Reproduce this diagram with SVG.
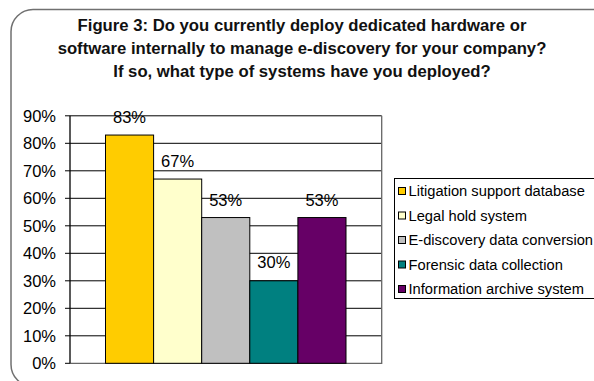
<svg xmlns="http://www.w3.org/2000/svg" width="594" height="381" viewBox="0 0 594 381">
<style>
.t{font-family:"Liberation Sans",Arial,sans-serif;fill:#000}
.title{font-size:16.7px;font-weight:bold;text-anchor:middle;fill:#111}
.ax{font-size:16.5px;text-anchor:end}
.val{font-size:16.5px;text-anchor:middle}
.leg{font-size:14.7px}
.grid{stroke:#000;stroke-width:1}
.bar{stroke:#000;stroke-width:1}
.sw{stroke:#000;stroke-width:1}
</style>
<rect x="0" y="0" width="594" height="381" fill="#fff"/>
<rect id="frame" x="11" y="9.5" width="610" height="377" rx="22" ry="22" fill="#fff" stroke="#707070" stroke-width="1.5"/>
<g id="title" class="t title">
<text x="302" y="30.5">Figure 3: Do you currently deploy dedicated hardware or</text>
<text x="302" y="53.5">software internally to manage e-discovery for your company?</text>
<text x="302" y="76.5">If so, what type of systems have you deployed?</text>
</g>
<g id="plot">
<rect x="70" y="115.8" width="311.7" height="247.5" fill="#fff"/>
<g class="grid">
<line x1="70" y1="115.8" x2="381.7" y2="115.8"/>
<line x1="70" y1="143.3" x2="381.7" y2="143.3"/>
<line x1="70" y1="170.8" x2="381.7" y2="170.8"/>
<line x1="70" y1="198.3" x2="381.7" y2="198.3"/>
<line x1="70" y1="225.8" x2="381.7" y2="225.8"/>
<line x1="70" y1="253.3" x2="381.7" y2="253.3"/>
<line x1="70" y1="280.8" x2="381.7" y2="280.8"/>
<line x1="70" y1="308.3" x2="381.7" y2="308.3"/>
<line x1="70" y1="335.8" x2="381.7" y2="335.8"/>
</g>
<polyline points="381.7,115.8 381.7,363.3 70,363.3" fill="none" stroke="#666" stroke-width="1.3"/>
</g>
<g id="bars">
<g id="bar-litigation"><rect class="bar" x="105.5" y="135.05" width="48.1" height="228.25" fill="#FFCC00"/><text class="t val" x="129.5" y="122.5">83%</text></g>
<g id="bar-legalhold"><rect class="bar" x="153.6" y="179.05" width="48.1" height="184.25" fill="#FFFFCC"/><text class="t val" x="177.6" y="166.5">67%</text></g>
<g id="bar-ediscovery"><rect class="bar" x="201.7" y="217.55" width="48.1" height="145.75" fill="#C0C0C0"/><text class="t val" x="225.7" y="205.5">53%</text></g>
<g id="bar-forensic"><rect class="bar" x="249.8" y="280.8" width="48.1" height="82.5" fill="#008080"/><text class="t val" x="273.8" y="267.8">30%</text></g>
<g id="bar-archive"><rect class="bar" x="297.9" y="217.55" width="48.1" height="145.75" fill="#660066"/><text class="t val" x="321.9" y="205.5">53%</text></g>
</g>
<g id="yaxis">
<line x1="70" y1="115.8" x2="70" y2="363.3" stroke="#000" stroke-width="1.3"/>
<g class="grid">
<line x1="65" y1="115.8" x2="70" y2="115.8"/>
<line x1="65" y1="143.3" x2="70" y2="143.3"/>
<line x1="65" y1="170.8" x2="70" y2="170.8"/>
<line x1="65" y1="198.3" x2="70" y2="198.3"/>
<line x1="65" y1="225.8" x2="70" y2="225.8"/>
<line x1="65" y1="253.3" x2="70" y2="253.3"/>
<line x1="65" y1="280.8" x2="70" y2="280.8"/>
<line x1="65" y1="308.3" x2="70" y2="308.3"/>
<line x1="65" y1="335.8" x2="70" y2="335.8"/>
<line x1="65" y1="363.3" x2="70" y2="363.3"/>
</g>
<g class="t ax">
<text x="56" y="121.8">90%</text>
<text x="56" y="149.3">80%</text>
<text x="56" y="176.8">70%</text>
<text x="56" y="204.3">60%</text>
<text x="56" y="231.8">50%</text>
<text x="56" y="259.3">40%</text>
<text x="56" y="286.8">30%</text>
<text x="56" y="314.3">20%</text>
<text x="56" y="341.8">10%</text>
<text x="56" y="369.3">0%</text>
</g>
</g>
<g id="legend">
<rect x="394.5" y="178.5" width="210" height="120" fill="#fff" stroke="#000" stroke-width="1"/>
<rect class="sw" x="398.5" y="187.5" width="7" height="7" fill="#FFCC00"/>
<rect class="sw" x="398.5" y="212" width="7" height="7" fill="#FFFFCC"/>
<rect class="sw" x="398.5" y="236.5" width="7" height="7" fill="#C0C0C0"/>
<rect class="sw" x="398.5" y="261" width="7" height="7" fill="#008080"/>
<rect class="sw" x="398.5" y="285.5" width="7" height="7" fill="#660066"/>
<g class="t leg">
<text x="408.5" y="196">Litigation support database</text>
<text x="408.5" y="220.5">Legal hold system</text>
<text x="408.5" y="245">E-discovery data conversion</text>
<text x="408.5" y="269.5">Forensic data collection</text>
<text x="408.5" y="294">Information archive system</text>
</g>
</g>
</svg>
